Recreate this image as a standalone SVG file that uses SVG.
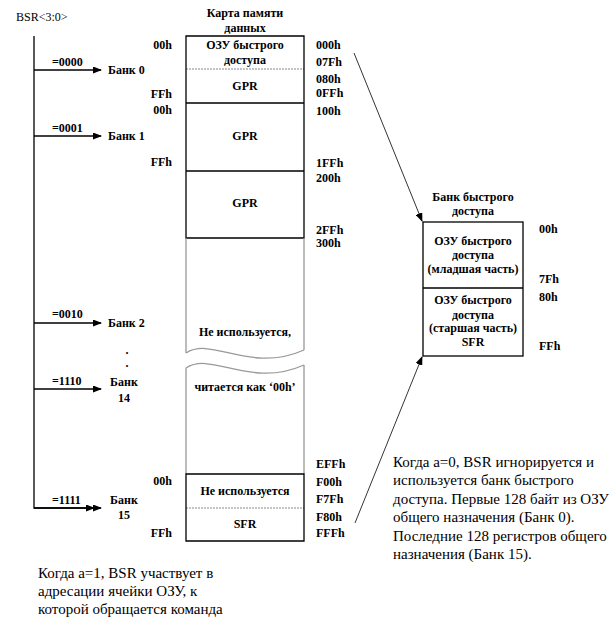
<svg xmlns="http://www.w3.org/2000/svg" width="616" height="627" viewBox="0 0 616 627">
<defs>
<marker id="ah" markerWidth="9" markerHeight="7" refX="8" refY="3.5" orient="auto" markerUnits="userSpaceOnUse">
<path d="M0,0 L9,3.5 L0,7 Z" fill="#000"/>
</marker>
<marker id="ah2" markerWidth="9" markerHeight="7" refX="8" refY="3.5" orient="auto" markerUnits="userSpaceOnUse">
<path d="M0,0 L9,3.5 L0,7 Z" fill="#000"/>
</marker>
</defs>
<style>
text{font-family:"Liberation Serif","Times New Roman",serif;fill:#000}
.b{font-weight:bold;font-size:12px}
.m{text-anchor:middle}
.e{text-anchor:end}
.n{font-size:15px}
.box{fill:none;stroke:#000;stroke-width:1.3}
.dash{stroke:#888;stroke-width:1;stroke-dasharray:2,1}
.gray{stroke:#999;stroke-width:1.3;fill:none}
.ln{stroke:#000;stroke-width:1.3;fill:none}
.thin{stroke:#000;stroke-width:0.8;fill:none}
</style>
<rect width="616" height="627" fill="#fff"/>

<g id="bsr">
<text x="16" y="21" style="font-size:12px">BSR&lt;3:0&gt;</text>
</g>

<g id="title">
<text class="b m" x="245" y="17">Карта памяти</text>
<text class="b m" x="245" y="32">данных</text>
</g>

<g id="connectors">
<path class="ln" d="M34,36 V508 H94" marker-end="url(#ah)"/>
<path class="ln" d="M34,70 H101" marker-end="url(#ah)"/>
<path class="ln" d="M34,136 H101" marker-end="url(#ah)"/>
<path class="ln" d="M34,323 H101" marker-end="url(#ah)"/>
<path class="ln" d="M34,389 H101" marker-end="url(#ah)"/>
<path class="ln" d="M34,508 H101" marker-end="url(#ah)"/>
<path class="thin" d="M354,53 L422,221" marker-end="url(#ah2)"/>
<path class="thin" d="M355,523 L422,357" marker-end="url(#ah2)"/>
</g>

<g id="bank-labels">
<text class="b" x="52" y="66">=0000</text>
<text class="b" x="108" y="74">Банк 0</text>
<text class="b" x="52" y="132">=0001</text>
<text class="b" x="108" y="140">Банк 1</text>
<text class="b" x="52" y="318">=0010</text>
<text class="b" x="108" y="327">Банк 2</text>
<text class="b m" x="127" y="354">.</text>
<text class="b m" x="127" y="367">.</text>
<text class="b" x="52" y="385">=1110</text>
<text class="b m" x="124" y="386">Банк</text>
<text class="b m" x="124" y="402">14</text>
<text class="b" x="52" y="504">=1111</text>
<text class="b m" x="124" y="504">Банк</text>
<text class="b m" x="124" y="519">15</text>
</g>

<g id="left-addr">
<text class="b e" x="172" y="49">00h</text>
<text class="b e" x="172" y="98">FFh</text>
<text class="b e" x="172" y="114">00h</text>
<text class="b e" x="172" y="166">FFh</text>
<text class="b e" x="172" y="485">00h</text>
<text class="b e" x="172" y="537">FFh</text>
</g>

<g id="memory-map">
<path class="dash" d="M186,69 H304"/>
<path class="dash" d="M186,508 H304"/>
<path class="box" d="M186,36 H304 V238 H186 Z"/>
<path class="ln" d="M186,103 H304 M186,171 H304"/>
<path class="gray" d="M186,238 V353 M304,238 V350 M186,368 V474 M304,365 V474"/>
<path class="gray" d="M186,353 C212,336 250,374 304,350"/>
<path class="gray" d="M186,368 C212,351 250,389 304,365"/>
<path class="box" d="M186,474 H304 V541 H186 Z"/>
<text class="b m" x="245" y="49">ОЗУ быстрого</text>
<text class="b m" x="245" y="64">доступа</text>
<text class="b m" x="245" y="90">GPR</text>
<text class="b m" x="245" y="140">GPR</text>
<text class="b m" x="245" y="207">GPR</text>
<text class="b m" x="245" y="336">Не используется,</text>
<text class="b m" x="245" y="391">читается как ‘00h’</text>
<text class="b m" x="245" y="495">Не используется</text>
<text class="b m" x="245" y="528">SFR</text>
</g>

<g id="right-addr">
<text class="b" x="316" y="49">000h</text>
<text class="b" x="316" y="66">07Fh</text>
<text class="b" x="316" y="83">080h</text>
<text class="b" x="316" y="97">0FFh</text>
<text class="b" x="316" y="115">100h</text>
<text class="b" x="316" y="167">1FFh</text>
<text class="b" x="316" y="182">200h</text>
<text class="b" x="316" y="234">2FFh</text>
<text class="b" x="316" y="247">300h</text>
<text class="b" x="316" y="468">EFFh</text>
<text class="b" x="316" y="486">F00h</text>
<text class="b" x="316" y="503">F7Fh</text>
<text class="b" x="316" y="521">F80h</text>
<text class="b" x="316" y="537">FFFh</text>
</g>

<g id="fast-bank">
<text class="b m" x="473" y="201">Банк быстрого</text>
<text class="b m" x="473" y="215">доступа</text>
<rect class="box" x="423" y="222" width="100" height="134"/>
<path class="ln" d="M423,288 H523"/>
<text class="b m" x="473" y="245">ОЗУ быстрого</text>
<text class="b m" x="473" y="259">доступа</text>
<text class="b m" x="473" y="273">(младшая часть)</text>
<text class="b m" x="473" y="304">ОЗУ быстрого</text>
<text class="b m" x="473" y="319">доступа</text>
<text class="b m" x="473" y="332">(старшая часть)</text>
<text class="b m" x="473" y="346">SFR</text>
<text class="b" x="539" y="233">00h</text>
<text class="b" x="539" y="283">7Fh</text>
<text class="b" x="539" y="301">80h</text>
<text class="b" x="539" y="350">FFh</text>
</g>

<g id="note-a1">
<text class="n" x="38" y="578">Когда а=1, BSR участвует в</text>
<text class="n" x="38" y="596">адресации ячейки ОЗУ, к</text>
<text class="n" x="38" y="614">которой обращается команда</text>
</g>

<g id="note-a0">
<text class="n" x="393" y="467">Когда а=0, BSR игнорируется и</text>
<text class="n" x="393" y="485">используется банк быстрого</text>
<text class="n" x="393" y="504">доступа. Первые 128 байт из ОЗУ</text>
<text class="n" x="393" y="522">общего назначения (Банк 0).</text>
<text class="n" x="393" y="541">Последние 128 регистров общего</text>
<text class="n" x="393" y="559">назначения (Банк 15).</text>
</g>
</svg>
